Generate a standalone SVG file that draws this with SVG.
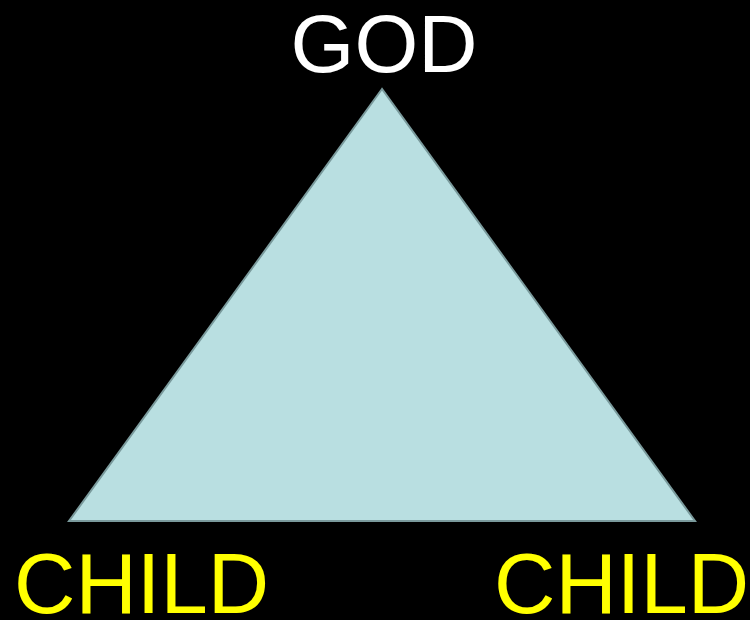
<svg xmlns="http://www.w3.org/2000/svg" width="750" height="620" viewBox="0 0 750 620">
<style>
.lbl{font-family:"Liberation Sans",Arial,sans-serif;}
.child{fill:#FFFF00;font-size:85px;}
</style>
<rect width="750" height="620" fill="#000"/>
<g id="triangle">
<polygon points="382,89 69,521 695,521" fill="#B9DFE1" stroke="#7A9A9C" stroke-width="2"/>
</g>
<g id="god"><text class="lbl" x="384" y="72" text-anchor="middle" font-size="82" fill="#FFFFFF">GOD</text></g>
<g id="child-left"><text class="lbl child" x="14" y="613">CHILD</text></g>
<g id="child-right"><text class="lbl child" x="494" y="613">CHILD</text></g>
<g id="connectors"/>
</svg>
